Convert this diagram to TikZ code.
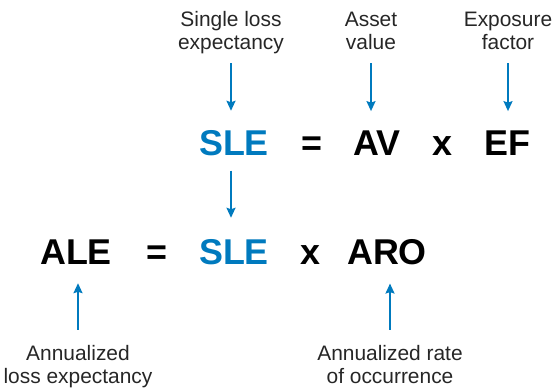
\documentclass[tikz,border=0pt]{standalone}
\usepackage{fontspec}
\setmainfont{Liberation Sans}
\usetikzlibrary{arrows.meta}
\definecolor{fblue}{RGB}{0,122,190}
\tikzset{
  lbl/.style={inner sep=0pt, align=center, font=\fontsize{21}{23}\selectfont, text=black!85},
  big/.style={inner sep=0pt, anchor=base, font=\fontsize{36}{40}\selectfont\bfseries},
  bigblue/.style={big, text=fblue},
  arr/.style={draw=fblue, line width=1.8pt, -{Stealth[length=10bp,width=9bp,inset=1.5bp]}}
}
\begin{document}
\begin{tikzpicture}[x=1bp,y=-1bp]
\useasboundingbox (0,0) rectangle (553,389);
% top labels
\node[lbl, anchor=north] (lsle) at (231,9.9) {\strut Single loss\\\strut expectancy};
\node[lbl, anchor=north] (lav) at (371,9.9) {\strut Asset\\\strut value};
\node[lbl, anchor=north] (lef) at (508,9.9) {\strut Exposure\\\strut factor};
% top row
\node[bigblue] (sle1) at (234,155) {SLE};
\node[big] (eq1) at (312,155) {=};
\node[big] (av) at (377,155) {AV};
\node[big] (x1) at (442,155) {x};
\node[big] (ef) at (507,155) {EF};
% bottom row
\node[big] (ale) at (76,264) {ALE};
\node[big] (eq2) at (157,264) {=};
\node[bigblue] (sle2) at (234,264) {SLE};
\node[big] (x2) at (310,264) {x};
\node[big] (aro) at (387,264) {ARO};
% bottom labels
\node[lbl, anchor=north] (lale) at (78,343.9) {\strut Annualized\\\strut loss expectancy};
\node[lbl, anchor=north] (laro) at (390,343.9) {\strut Annualized rate\\\strut of occurrence};
% arrows
\draw[arr, shorten <=7bp, shorten >=19bp] (lsle.south) -- (lsle.south |- sle1.north);
\draw[arr, shorten <=7bp, shorten >=19bp] (lav.south) -- (lav.south |- av.north);
\draw[arr, shorten <=7bp, shorten >=19bp] (lef.south) -- (lef.south |- ef.north);
\draw[arr, shorten <=15bp, shorten >=21bp] ([xshift=-3bp]sle1.south) -- ([xshift=-3bp]sle2.north);
\draw[arr, shorten <=14bp, shorten >=19bp] (lale.north) -- (lale.north |- ale.south);
\draw[arr, shorten <=14bp, shorten >=19bp] (laro.north) -- (laro.north |- aro.south);
\end{tikzpicture}
\end{document}
